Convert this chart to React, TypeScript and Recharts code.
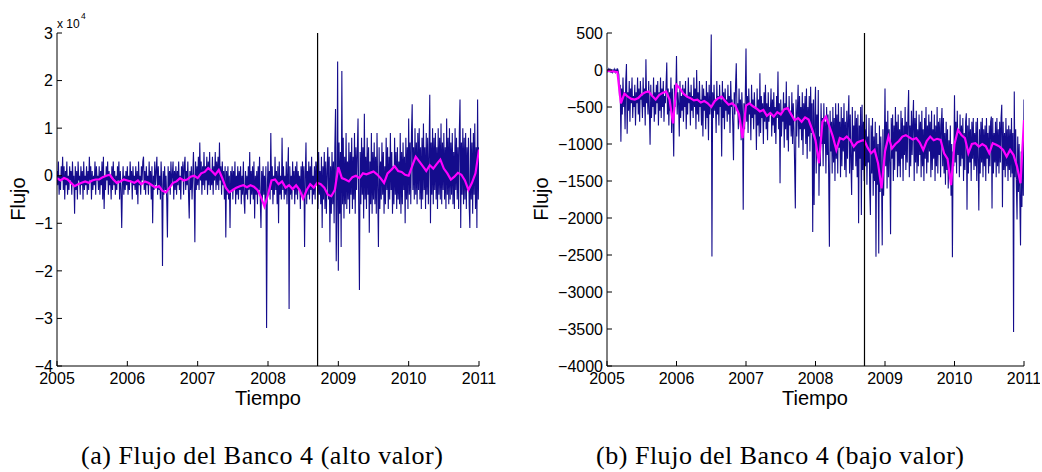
import React from 'react'
import { LineChart, Line, XAxis, YAxis, ReferenceLine } from 'recharts'

// sample spacing, in hundredths of a year: flows ~every 4 days, trends a smoothed mean
const FLOW_STEP = 1
const TREND_STEP = 5
const START_YEAR = 2005

const years = [2005, 2006, 2007, 2008, 2009, 2010, 2011]
const crisisDate = 2008.705

// Banco 4, alto valor (thousands); one row = 0.1 year
const highFlow = [
  1, -2, 3, -4, 0, -3, 2, -1, 4, -3,
  2, -5, 1, -2, 3, -4, 0, -3, 2, -1,
  1, -4, 3, -2, 0, -8, 2, -3, 1, -5,
  3, -1, 0, -4, 2, -2, 1, -5, 3, -3,
  0, -2, 2, -4, 1, -3, 4, -1, 2, -5,
  1, -3, 0, -2, 3, -4, 2, -1, 0, -3,
  2, -4, 1, -2, 3, -5, 4, -7, 0, -3,
  2, -1, 3, -4, 1, -2, 0, -5, 2, -3,
  3, -2, 1, -4, 0, -3, 2, -1, 3, -5,
  1, -3, -11, -2, 2, -4, 0, -3, 1, -2,
  2, -4, 0, -3, 3, -1, 1, -5, 2, -2,
  0, -3, 2, -4, 1, -6, 3, -2, 0, -4,
  2, -1, 3, 4, -3, 1, -4, 2, -2, 0,
  -4, 3, -2, 1, -5, 2, -10, 0, -3, 3,
  -2, 1, 4, -4, 2, -3, 0, -5, 3, -2,
  -19, 1, -4, 2, -3, 0, -5, -13, 2, -3,
  1, -4, 3, -2, 0, 3, -5, 1, -3, 2,
  -4, 1, -2, 3, -3, 0, -5, 2, -1, 3,
  -4, 2, 4, -3, 1, -2, 3, -4, -9, 1,
  -3, 2, -5, 0, 5, -2, -14, 3, -3, 2,
  -2, 4, -3, 7, -1, 3, -4, 2, -2, 5,
  -3, 2, -1, 4, -4, 3, -2, 5, -3, 1,
  -2, 4, -4, 2, -1, 5, -3, 3, -2, 4,
  -3, 7, -1, 2, -4, 3, -2, 1, -5, 2,
  -13, 1, -4, 2, -5, 0, -11, 1, -3, 2,
  -5, 1, -3, 3, -6, 0, -4, 2, -5, 1,
  -3, 2, -6, 0, -4, 3, -5, -8, 1, -4,
  0, -5, 2, -3, 5, -6, 1, -4, 2, -5,
  3, -9, 0, -4, 1, -6, 2, -3, 4, -5,
  -11, 1, -5, 2, -4, 0, -6, 2, -32, -3,
  3, -4, 1, -5, 9, -3, 2, -6, 0, -4,
  4, -3, 1, -6, 2, -10, 3, -4, 0, -5,
  8, -3, 2, -5, 0, -4, 3, -6, 1, 6,
  -28, 2, -4, 0, -5, 3, -3, 1, -6, 2,
  -4, 3, -5, 1, -3, 0, -7, 2, -4, 3,
  -5, 2, -15, 0, 7, -6, 1, -4, 3, -5,
  2, -3, 4, -6, 0, -4, 2, -5, 3, -2,
  3, -7, 5, -4, 1, -6, 4, -11, 2, -5,
  5, -7, 3, -8, 1, 6, -5, 4, -14, 2,
  -8, 5, -6, 3, -10, 6, 14, -18, -6, 24,
  -20, 7, -8, 5, -15, 22, -6, 8, -9, 4,
  -6, 9, -7, 3, -5, 7, -8, 5, -4, 8,
  -7, 4, -5, 9, -8, 6, -3, 5, 12, -7,
  -24, 5, -6, 8, -4, 6, -9, 13, -5, 4,
  -7, 8, -4, 6, -12, 3, -6, 9, -8, 5,
  -5, 7, -6, 4, -8, 9, -3, -15, 6, -7,
  3, -5, 7, -4, 5, -8, 2, -6, 8, -3,
  6, -7, 4, -5, 9, -3, 5, -8, 2, -6,
  8, -4, 5, -7, 6, -5, 3, -6, 9, -8,
  5, -6, 7, -3, 4, -10, 8, -5, 6, -7,
  12, -4, 7, -6, 9, 15, -3, 6, -5, 10,
  -4, 7, -6, 9, -3, 10, -5, 6, -7, 8,
  -5, 11, -3, 6, -7, 9, -4, 8, -6, 5,
  17, -10, 7, -4, 10, -6, 8, -3, 9, -5,
  6, -7, 10, -4, 8, -5, 11, -6, 7, -3,
  9, -5, 6, -7, 12, -4, 8, -6, 10, -5,
  7, -4, 9, -6, 5, -7, 10, -3, 8, -5,
  6, -7, 9, 16, -11, 7, -4, 10, -6, 8,
  -5, 9, -7, 6, -3, 8, -6, -11, 10, -5,
  7, -8, 9, -4, 11, -7, 6, -11, 16, -5,
  6
]

const highTrend = [
  -0.5, -1, -0.5, -0.8, -1.5, -2.2, -1.8, -1.5, -1.2, -1.5, -1, -0.8, -0.8, -0.3, 0, 0.2, -0.8, -1.5, -1.2, -0.8,
  -1, -1.2, -1.5, -1, -1.8, -1.2, -1.5, -2, -2.5, -2.2, -3.2, -3.5, -2.5, -1.5, -1.2, -0.5, -1, -0.8, -0.2, 0,
  -0.5, 0.5, 0.8, 1.6, 1, 0.2, 1.2, -0.5, -2.5, -3.5, -3, -2.5, -2.2, -2, -2.4, -2, -2.3, -3, -4.5, -6.5,
  -4, -1, -0.8, -1.8, -1.2, -2.5, -2, -2.8, -2, -3, -4.8, -3, -1.8, -2.5, -1.5, -1.8, -2.5, -4, -4.3, -3,
  1.8, -0.5, -0.8, -1.2, -0.3, 0, -0.5, 0.5, 0.3, 0.6, 0.9, 0.3, -0.5, -1.5, 0.5, 1.2, 2, 1, 0.8, 0.2,
  0, 2, 4, 3, 2, 1, 2.2, 1.5, 2.5, 3.4, 1.5, 0.5, -0.8, -0.2, 0.6, 0.2, -1, -3, -1.5, 0.5, 5.5
]

// Banco 4, bajo valor; one row = 0.1 year
const lowFlow = [
  0, -20, 10, -30, 20, -10, -40, 10, -30, 0,
  -20, 10, -30, 0, -40, 20, -10, -60, -350, -200,
  -970, -250, -600, -100, -500, -300, -800, -150, 80, -860,
  -300, -550, -150, -700, -250, -450, -100, -650, -350, -500,
  -200, -750, -300, -450, -100, -600, -250, -700, -150, -400,
  -350, -650, -100, -500, -250, -750, 145, -450, -300, -600,
  -150, -550, -1010, -200, -650, -350, -500, -100, -700, -300,
  -600, -200, -450, -150, -750, -300, -550, -100, -650, -250,
  -500, -150, -700, -350, -450, -200, 100, -600, -250, -750,
  -300, -550, -100, -850, -250, -650, -1170, -200, -500, -350,
  190, -600, -300, -450, -900, -150, -650, -350, -550, -200,
  -700, -250, -500, -150, -800, -350, -600, -100, -450, -300,
  -750, -200, -550, -350, -650, -100, -500, -250, -800, 0,
  -600, -300, -700, -150, -500, -400, -750, -200, -900, -250,
  -550, -350, -800, -150, -650, -300, -950, -200, -600, -400,
  480, -2520, -300, -650, -200, -550, -400, -850, -150, -600,
  -350, -750, -200, -500, -400, -1170, -150, -650, -300, -800,
  -250, -550, -400, -700, -200, -600, -350, -850, -150, -500,
  -400, -750, -1220, -300, -600, -200, 90, -550, -450, -800,
  -250, -700, -400, -950, -300, -600, -1890, -450, -800, -350,
  290, -700, -350, -850, -250, -600, -450, -950, -200, -650,
  -400, -800, -300, -600, -500, -1080, -250, -750, -400, -900,
  -45, -850, -350, -650, -450, -1000, -300, -700, -200, -800,
  -450, -950, -300, -700, -500, -600, -250, -900, -400, -750,
  -300, -850, -500, -1000, -350, -650, -20, -800, -450, -1530,
  -400, -900, -550, -700, -300, -1050, -450, -800, -155, -950,
  -500, -1100, -350, -750, -550, -900, -300, -1000, -450, -800,
  -1305, -1870, -400, -900, -550, -200, -1050, -350, -800, -500,
  -950, -300, -1150, -450, -800, -350, -1000, -250, -1200, -500,
  -900, -350, -1100, -225, -850, -450, -2190, -400, -1825, -600,
  -225, -1400, -600, -1100, -270, -1700, -900, -1300, -450, -1000,
  -650, -1300, -450, -1000, -700, -1400, -500, -1150, -600, -1450,
  -2390, -550, -1100, -700, -1400, -500, -1250, -650, -1500, -450,
  -1200, -600, -1400, -450, -1050, -700, -1450, -500, -1300, -650,
  -1100, -450, -1350, -700, -1450, -550, -1200, -650, -340, -1400,
  -600, -1250, -1690, -500, -1350, -750, -1100, -550, -1300, -650,
  -1450, -600, -2070, -750, -1200, -500, -1960, -470, -1350, -700,
  -1500, -800, -1300, -600, -1550, -900, -1250, -650, -1600, -1960,
  -750, -1400, -650, -1700, -900, -1500, -700, -2525, -850, -1550,
  -1000, -2480, -750, -1650, -900, -1450, -2370, -800, -1700, -1100,
  -250, -1300, -700, -1600, -550, -1450, -800, -1250, -2220, -650,
  -1200, -600, -1500, -750, -1350, -500, -1100, -700, -1450, -600,
  -1300, -800, -1450, -550, -1200, -650, -1500, -750, -1150, -500,
  -1350, -700, -1250, -600, -270, -1450, -750, -1300, -550, -1150,
  -700, -405, -1500, -650, -1250, -550, -1400, -800, -1300, -600,
  -1150, -700, -1450, -550, -1300, -800, -1500, -650, -1200, -500,
  -1400, -750, -1250, -600, -1100, -700, -1450, -550, -1350, -800,
  -1200, -600, -1500, -750, -1300, -500, -1400, -700, -1150, -650,
  -1450, -750, -515, -1300, -650, -1400, -850, -1550, -700, -1350,
  -800, -1600, -950, -1400, -750, -1700, -1000, -2530, -1100, -1300,
  -340, -1250, -700, -1400, -550, -1150, -800, -1450, -600, -1300,
  -750, -1200, -650, -1500, -850, -1350, -700, -585, -1890, -750,
  -1400, -650, -1250, -800, -1500, -700, -1200, -650, -1350, -850,
  -1300, -700, -1500, -650, -1200, -1900, -800, -1400, -700, -1250,
  -650, -1450, -800, -1300, -750, -1500, -650, -1200, -850, -1400,
  -750, -1300, -700, -630, -1870, -650, -1400, -850, -1250, -700,
  -1450, -650, -1300, -800, -1400, -700, -1250, -650, -470, -1855,
  -700, -1350, -850, -1450, -650, -1300, -800, -1500, -750, -1350,
  -800, -1450, -650, -1400, -850, -3540, -290, -1450, -800, -1550,
  -2020, -900, -1650, -1000, -1750, -2370, -1100, -1850, -900, -1700,
  -400
]

const lowTrend = [
  -10, -15, -20, -30, -450, -320, -360, -390, -400, -380, -330, -300, -290, -350, -400, -340, -310, -290, -400, -720,
  -200, -250, -320, -360, -380, -410, -400, -440, -420, -450, -500, -420, -380, -360, -420, -470, -450, -490, -600, -920,
  -480, -450, -490, -520, -560, -540, -620, -580, -630, -570, -600, -530, -515, -600, -680, -650, -700, -640, -670, -800,
  -950, -1260, -700, -630, -760, -900, -1080, -920, -940, -900, -950, -1035, -980, -960, -945, -1050, -1125, -1080, -1260, -1600,
  -1100, -900, -1060, -1000, -960, -900, -880, -910, -940, -920, -980, -1080, -960, -900, -950, -930, -945, -1125, -1200, -1555,
  -1000, -810, -880, -920, -1125, -1000, -990, -1035, -1000, -1030, -1125, -990, -1010, -1035, -1080, -1170, -1080, -1150, -1305, -1530, -675
]

const highTicks = [-40, -30, -20, -10, 0, 10, 20, 30]
const lowTicks = [-4000, -3500, -3000, -2500, -2000, -1500, -1000, -500, 0, 500]

type Row = { t: number; flow?: number; trend?: number }

function buildRows(flow: number[], trend: number[]): Row[] {
  const rows = new Map<number, Row>()
  flow.forEach((v, i) => {
    const k = i * FLOW_STEP
    rows.set(k, { t: START_YEAR + k / 100, flow: v })
  })
  trend.forEach((v, i) => {
    const k = i * TREND_STEP
    const r = rows.get(k) ?? { t: START_YEAR + k / 100 }
    r.trend = v
    rows.set(k, r)
  })
  return [...rows.entries()].sort((a, b) => a[0] - b[0]).map(e => e[1])
}

const highRows = buildRows(highFlow, highTrend)
const lowRows = buildRows(lowFlow, lowTrend)

const minus = (s: string) => s.replace('-', '\u2212')
const tickStyle = { fontFamily: '"Liberation Sans", Arial, sans-serif', fontSize: 16, fill: '#000' }
const axisLine = { stroke: '#000', strokeWidth: 1 }

interface PanelProps {
  data: Row[]
  left: number
  yWidth: number
  rightMargin: number
  yDomain: [number, number]
  yTicks: number[]
  yFormat: (v: number) => string
}

function Panel({ data, left, yWidth, rightMargin, yDomain, yTicks, yFormat }: PanelProps) {
  return (
    <div style={{ position: 'absolute', left, top: 0 }}>
      <LineChart width={500} height={400} data={data} margin={{ top: 33, right: rightMargin, bottom: 0, left: 0 }}>
        <XAxis
          dataKey="t"
          type="number"
          domain={[2005, 2011]}
          ticks={years}
          allowDataOverflow
          height={34}
          axisLine={axisLine}
          tickLine={axisLine}
          tickSize={-5}
          tickMargin={12}
          tick={tickStyle}
          interval={0}
        />
        <XAxis
          xAxisId="top"
          orientation="top"
          dataKey="t"
          type="number"
          domain={[2005, 2011]}
          ticks={years}
          allowDataOverflow
          height={0}
          axisLine={axisLine}
          tickLine={axisLine}
          tickSize={-5}
          tickFormatter={() => ''}
        />
        <YAxis
          type="number"
          domain={yDomain}
          ticks={yTicks}
          allowDataOverflow
          width={yWidth}
          axisLine={axisLine}
          tickLine={axisLine}
          tickSize={-5}
          tickMargin={9}
          tick={tickStyle}
          tickFormatter={yFormat}
          interval={0}
        />
        <YAxis
          yAxisId="right"
          orientation="right"
          type="number"
          domain={yDomain}
          ticks={yTicks}
          allowDataOverflow
          width={0}
          axisLine={axisLine}
          tickLine={axisLine}
          tickSize={-5}
          tickFormatter={() => ''}
        />
        <Line
          type="linear"
          dataKey="flow"
          stroke="#140c8c"
          strokeWidth={1.1}
          dot={false}
          connectNulls
          isAnimationActive={false}
        />
        <Line
          type="linear"
          dataKey="trend"
          stroke="#ff00ff"
          strokeWidth={2.2}
          dot={false}
          connectNulls
          isAnimationActive={false}
        />
        <ReferenceLine x={crisisDate} stroke="#000" strokeWidth={1.2} />
      </LineChart>
    </div>
  )
}

const labelFont = '"Liberation Sans", Arial, sans-serif'
const captionFont = '"Liberation Serif", "Times New Roman", serif'

export default function App() {
  return (
    <div style={{ position: 'absolute', left: 0, top: 0, width: 1042, height: 472, background: '#fff' }}>
      <Panel
        data={highRows}
        left={0}
        yWidth={57}
        rightMargin={21}
        yDomain={[-40, 30]}
        yTicks={highTicks}
        yFormat={v => minus(String(v / 10))}
      />
      <Panel
        data={lowRows}
        left={540}
        yWidth={67}
        rightMargin={16}
        yDomain={[-4000, 500]}
        yTicks={lowTicks}
        yFormat={v => minus(String(v))}
      />
      <svg width={1042} height={472} style={{ position: 'absolute', left: 0, top: 0, pointerEvents: 'none' }}>
        <text x={57} y={28} fontFamily={labelFont} fontSize={12}>x 10</text>
        <text x={81} y={19} fontFamily={labelFont} fontSize={8.5}>4</text>
        <text x={25} y={199} fontFamily={labelFont} fontSize={20} textAnchor="middle" transform="rotate(-90 25 199)">Flujo</text>
        <text x={548} y={199} fontFamily={labelFont} fontSize={20} textAnchor="middle" transform="rotate(-90 548 199)">Flujo</text>
        <text x={268} y={405} fontFamily={labelFont} fontSize={20} textAnchor="middle">Tiempo</text>
        <text x={815} y={405} fontFamily={labelFont} fontSize={20} textAnchor="middle">Tiempo</text>
        <text x={262} y={464} fontFamily={captionFont} fontSize={26} textAnchor="middle" textLength={362} lengthAdjust="spacing">(a) Flujo del Banco 4 (alto valor)</text>
        <text x={780} y={464} fontFamily={captionFont} fontSize={26} textAnchor="middle" textLength={368} lengthAdjust="spacing">(b) Flujo del Banco 4 (bajo valor)</text>
      </svg>
    </div>
  )
}
